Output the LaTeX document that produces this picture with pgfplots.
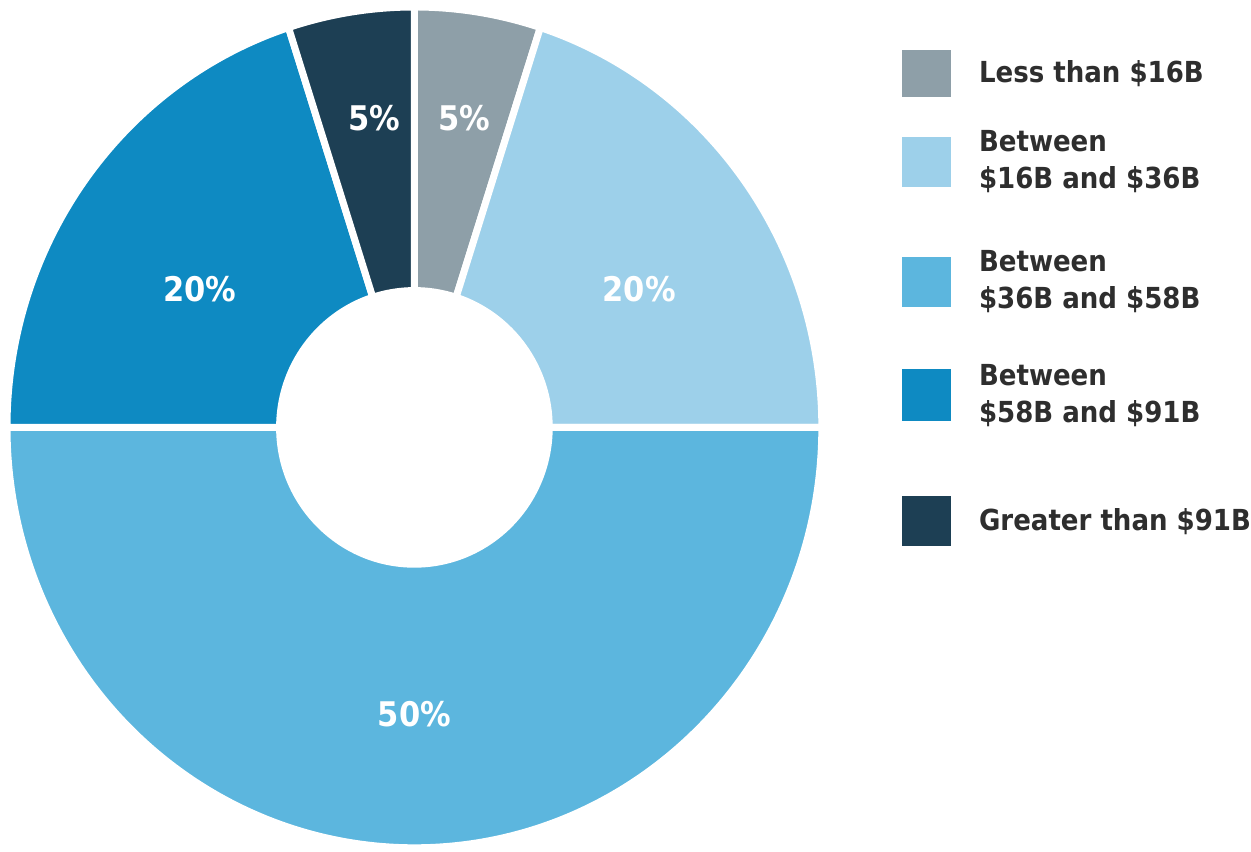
\documentclass[border=0pt]{standalone}
\usepackage{pgfplots}
\pgfplotsset{compat=1.18}
\usepackage{fontspec}
\setmainfont{DejaVu Sans Condensed}
\definecolor{cA}{HTML}{8E9FA8}
\definecolor{cB}{HTML}{9DD0EA}
\definecolor{cC}{HTML}{5CB6DE}
\definecolor{cD}{HTML}{0E8AC2}
\definecolor{cE}{HTML}{1D3F54}
\definecolor{txt}{HTML}{2E2E2E}
\begin{document}
\begin{tikzpicture}
\begin{axis}[width=625.5pt,height=423pt,scale only axis,
  xmin=0,xmax=1251,ymin=0,ymax=846,hide axis,clip=false]
\path (axis cs:0,0) rectangle (axis cs:1251,846);
\coordinate (C) at (axis cs:415,418);
% legend
\fill[cA] (axis cs:903,749) rectangle (axis cs:952,796);
\fill[cB] (axis cs:903,659) rectangle (axis cs:952,709);
\fill[cC] (axis cs:903,539) rectangle (axis cs:952,589);
\fill[cD] (axis cs:903,424) rectangle (axis cs:952,476);
\fill[cE] (axis cs:903,299) rectangle (axis cs:952,349);
\begin{scope}[every node/.style={anchor=west,inner sep=0pt,font=\bfseries\fontsize{14.5pt}{18.5pt}\selectfont,text=txt,align=left}]
\node at (axis cs:980,772) {Less than \$16B};
\node at (axis cs:980,684) {Between\\\$16B and \$36B};
\node at (axis cs:980,564) {Between\\\$36B and \$58B};
\node at (axis cs:980,450) {Between\\\$58B and \$91B};
\node at (axis cs:980,324) {Greater than \$91B};
\end{scope}
\end{axis}
\begin{scope}[shift={(C)}]
\foreach \v/\c/\s in {5/cA/90,20/cB/72,50/cC/0,20/cD/-180,5/cE/-252}{
  \pgfmathsetmacro{\e}{\s-3.6*\v}
  \fill[\c, draw=white, line width=3.5pt, line join=miter]
    (\s:204pt and 210.5pt) arc[start angle=\s, end angle=\e, x radius=204pt, y radius=210.5pt]
    -- (\e:67.5pt and 68.5pt) arc[start angle=\e, end angle=\s, x radius=67.5pt, y radius=68.5pt] -- cycle;
}
\end{scope}
\begin{axis}[width=625.5pt,height=423pt,scale only axis,
  xmin=0,xmax=1251,ymin=0,ymax=846,hide axis,clip=false]
\begin{scope}[every node/.style={text=white,font=\bfseries\fontsize{17pt}{20pt}\selectfont,inner sep=0pt}]
\node at (axis cs:375,728) {5\%};
\node at (axis cs:465,728) {5\%};
\node at (axis cs:200,556) {20\%};
\node at (axis cs:640,556) {20\%};
\node at (axis cs:415,131) {50\%};
\end{scope}
\end{axis}
\end{tikzpicture}
\end{document}
